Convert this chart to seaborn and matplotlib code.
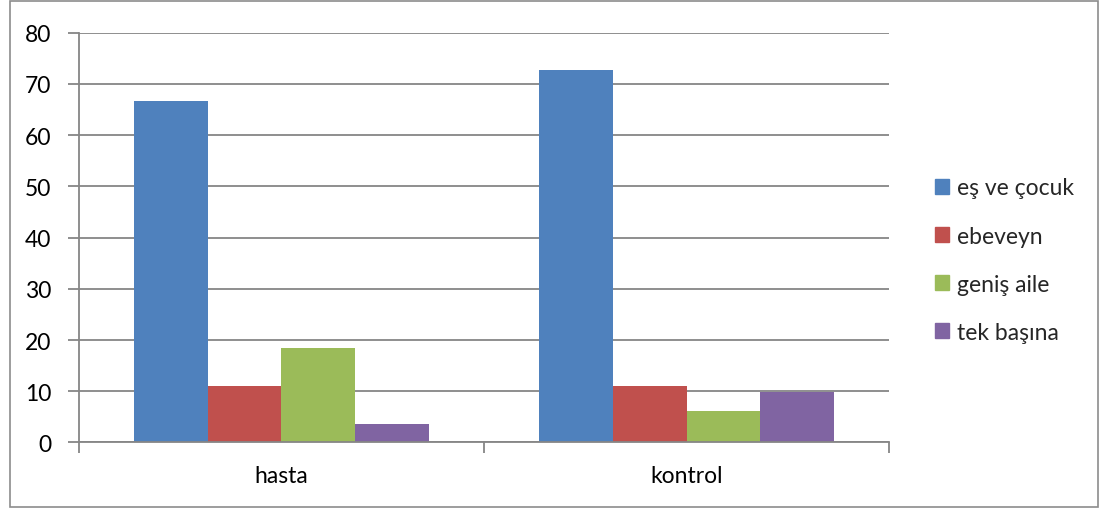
import pandas as pd
import matplotlib.pyplot as plt
import matplotlib.patches as mpatches
import seaborn as sns

# ─────────────────────────── Data ─────────────────────────────────────────────
groups = ['hasta', 'kontrol']
series = ['eş ve çocuk', 'ebeveyn', 'geniş aile', 'tek başına']
hasta_vals = [66.7, 11.1, 18.5, 3.7]
kontrol_vals = [72.8, 11.1, 6.2, 9.9]
colors = ['#4F81BD', '#C0504D', '#9BBB59', '#8064A2']
y_ticks = [0, 10, 20, 30, 40, 50, 60, 70, 80]

df = pd.DataFrame({
    'grup': ['hasta'] * len(series) + ['kontrol'] * len(series),
    'seri': series + series,
    'deger': hasta_vals + kontrol_vals,
})

# ─────────────────────────── Style ────────────────────────────────────────────
sns.set_theme(style="white")
plt.rcParams['font.family'] = ['Lato', 'DejaVu Sans']
GRID = '#868686'
FS = 16.5

fig = plt.figure(figsize=(11.03, 5.10), dpi=100)
ax = fig.add_axes([0.0716, 0.1304, 0.806 - 0.0716, 0.934 - 0.1304])

sns.barplot(data=df, x='grup', y='deger', hue='seri', order=groups,
            hue_order=series, palette=colors, width=0.726, gap=0,
            linewidth=0, saturation=1, ax=ax, legend=False)

ax.set_xlim(-0.5, 1.5)
ax.set_ylim(0, 80)
ax.set_yticks(y_ticks)
ax.set_xlabel('')
ax.set_ylabel('')

ax.yaxis.grid(True, color=GRID, linewidth=1.3)
ax.set_axisbelow(True)
for s in ['top', 'right']:
    ax.spines[s].set_visible(False)
for s in ['left', 'bottom']:
    ax.spines[s].set_color(GRID)
    ax.spines[s].set_linewidth(1.3)

ax.tick_params(axis='y', which='major', length=8, width=1.3, color=GRID,
               pad=12, labelsize=FS, labelcolor='black', left=True)
ax.set_xticks([-0.5, 0.5, 1.5], minor=True)
ax.tick_params(axis='x', which='minor', length=8, width=1.3, color=GRID,
               bottom=True, direction='out')
ax.tick_params(axis='x', which='major', length=0, pad=16, labelsize=FS,
               labelcolor='black')

# legend
handles = [mpatches.Patch(color=c, label=s) for c, s in zip(colors, series)]
fig.legend(handles=handles, loc='upper left', bbox_to_anchor=(0.839, 0.668),
           frameon=False, fontsize=FS, handlelength=0.62, handleheight=0.62,
           handletextpad=0.35, labelspacing=1.18, borderaxespad=0)

# outer chart border
fig.patches.append(mpatches.Rectangle((10 / 1103, 2 / 510), 1088 / 1103, 506 / 510,
                                      transform=fig.transFigure, fill=False,
                                      edgecolor='#8c8c8c', linewidth=1.2))

plt.savefig('out.png', dpi=100)
plt.close()
